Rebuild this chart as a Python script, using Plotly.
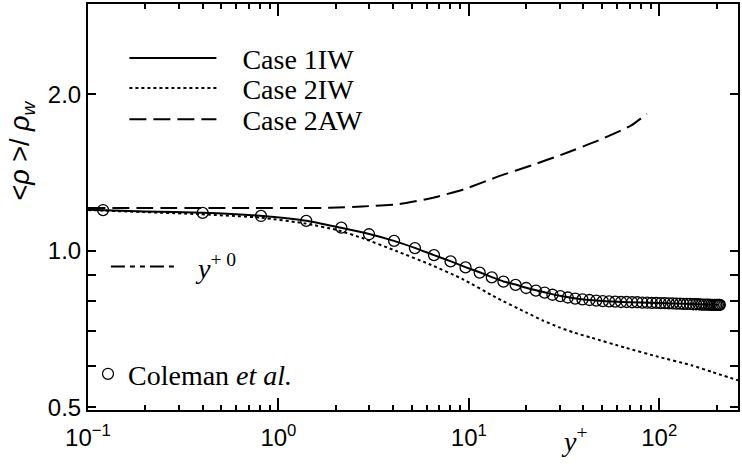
import plotly.graph_objects as go

# ---- data ----
case1_yp = [0.1, 0.2, 0.4, 0.8, 1.4, 2.1, 3.0, 4.0, 5.2, 6.5, 8.0, 9.6, 11.4, 13.2, 15.2, 17.6, 20, 25, 30, 40, 60, 80, 120, 160, 205]
case1_rho = [1.199, 1.190, 1.184, 1.168, 1.143, 1.109, 1.077, 1.046, 1.013, 0.982, 0.955, 0.930, 0.909, 0.890, 0.873,
             0.861, 0.849, 0.832, 0.819, 0.806, 0.798, 0.795, 0.792, 0.789, 0.787]

case2iw_yp = [0.1, 0.386, 0.812, 1.40, 2.04, 2.76, 4.13, 6.18, 9.23, 13.8, 20.1, 24.5, 29.6, 36.0, 44.2, 66.1, 98.8,
              147.6, 187.8, 259]
case2iw_rho = [1.198, 1.176, 1.158, 1.128, 1.096, 1.058, 1.000, 0.943, 0.883, 0.814, 0.760, 0.734, 0.713, 0.695,
               0.680, 0.651, 0.625, 0.602, 0.585, 0.563]

case2aw_yp = [0.1, 0.705, 1.85, 2.75, 4.30, 6.40, 9.53, 14.4, 21.4, 32.2, 48.0, 71.3, 86.0]
case2aw_rho = [1.209, 1.209, 1.210, 1.217, 1.230, 1.264, 1.315, 1.392, 1.461, 1.541, 1.632, 1.743, 1.835]

coleman_yp = [0.12, 0.40, 0.81, 1.40, 2.14, 2.99, 4.05, 5.21, 6.56, 8.02, 9.61, 11.4, 13.2, 15.2, 17.6, 20.0, 22.5,
              25.0, 27.5, 30.2, 33.1, 36.2, 39.5, 43.0, 46.7, 50.5, 54.5, 58.7, 63.0, 67.4, 72.0, 76.7, 81.5, 86.4,
              91.4, 96.5, 101.7, 107.0, 112.3, 117.7, 123.1, 128.6, 134.1, 139.6, 145.1, 150.6, 156.1, 161.5,
              166.8, 172.0, 177.1, 182.0, 186.8, 191.3, 195.6, 199.5, 203.0, 206.0, 208.0]
coleman_rho = [1.198, 1.183, 1.167, 1.142, 1.108, 1.076, 1.045, 1.012, 0.981, 0.954, 0.929, 0.908, 0.889, 0.872,
               0.860, 0.848, 0.838, 0.831, 0.823, 0.818, 0.813, 0.809, 0.806, 0.804, 0.802, 0.800, 0.799, 0.798,
               0.797, 0.797, 0.796, 0.796, 0.795, 0.795, 0.794, 0.794, 0.793, 0.793, 0.792, 0.792, 0.791, 0.791,
               0.790, 0.790, 0.790, 0.789, 0.789, 0.789, 0.788, 0.788, 0.788, 0.788, 0.787, 0.787, 0.787, 0.787,
               0.787, 0.787, 0.787]

x_tickvals = [0.1, 1, 10, 100]
x_ticktext = ["10<sup>\u22121</sup>", "10<sup>0</sup>", "10<sup>1</sup>", "10<sup>2</sup>"]
y_tickvals = [0.5, 1.0, 2.0]
y_ticktext = ["0.5", "1.0", "2.0"]
y_minor = [0.6, 0.7, 0.8, 0.9]
x_minor = [0.2, 0.3, 0.4, 0.5, 0.6, 0.7, 0.8, 0.9, 2, 3, 4, 5, 6, 7, 8, 9, 20, 30, 40, 50, 60, 70, 80, 90, 200]

SERIF = "Liberation Serif, Times New Roman, serif"
SANS = "Liberation Sans, Arial, sans-serif"
SP = "\u00a0"

fig = go.Figure()
fig.add_trace(go.Scatter(x=case1_yp, y=case1_rho, mode="lines", name=SP * 3 + "Case 1IW",
                         line=dict(color="black", width=2, shape="spline", smoothing=0.5), legend="legend"))
fig.add_trace(go.Scatter(x=case2iw_yp, y=case2iw_rho, mode="lines", name=SP * 3 + "Case 2IW",
                         line=dict(color="black", width=2, dash="3px,3px", shape="spline", smoothing=0.5),
                         legend="legend4"))
fig.add_trace(go.Scatter(x=case2aw_yp, y=case2aw_rho, mode="lines", name=SP * 3 + "Case 2AW",
                         line=dict(color="black", width=2, dash="17px,7px", shape="spline", smoothing=0.5),
                         legend="legend5"))
fig.add_trace(go.Scatter(x=[None], y=[None], mode="lines", name=SP * 2 + "<i>y</i><sup>+ 0</sup>",
                         line=dict(color="black", width=2, dash="14px,5px,5px,5px,5px,5px"), legend="legend2"))
fig.add_trace(go.Scatter(x=coleman_yp, y=coleman_rho, mode="markers", name="Coleman <i>et al.</i>",
                         marker=dict(symbol="circle-open", size=11, color="black", line=dict(width=1.3)),
                         legend="legend3"))

leg_common = dict(xanchor="left", yanchor="top", bgcolor="rgba(0,0,0,0)",
                  font=dict(family=SERIF, size=28, color="black"))
fig.update_layout(
    width=742, height=467,
    margin=dict(l=88, r=2, t=2, b=57),
    paper_bgcolor="white", plot_bgcolor="white",
    showlegend=True,
    legend=dict(x=0.056, y=0.928, itemwidth=87, **leg_common),
    legend4=dict(x=0.056, y=0.854, itemwidth=87, **leg_common),
    legend5=dict(x=0.056, y=0.777, itemwidth=87, **leg_common),
    legend2=dict(x=0.0276, y=0.414, itemwidth=68, **leg_common),
    legend3=dict(x=0.0, y=0.15, itemwidth=30, **leg_common),
)

fig.update_xaxes(type="log", range=[-1, 2.4136], showgrid=False, zeroline=False,
                 showline=True, linecolor="black", linewidth=2, mirror="ticks",
                 ticks="inside", ticklen=12, tickwidth=1.5, tickcolor="black",
                 tickvals=x_tickvals, ticktext=x_ticktext, ticklabelstandoff=5,
                 tickfont=dict(family=SANS, size=24, color="black"),
                 minor=dict(tickvals=x_minor, ticks="inside", ticklen=5, tickwidth=1.5, tickcolor="black"))
fig.update_yaxes(type="log", range=[-0.3065, 0.4751], showgrid=False, zeroline=False,
                 showline=True, linecolor="black", linewidth=2, mirror="ticks",
                 ticks="inside", ticklen=8, tickwidth=1.5, tickcolor="black",
                 tickvals=y_tickvals, ticktext=y_ticktext,
                 tickfont=dict(family=SANS, size=24, color="black"),
                 minor=dict(tickvals=y_minor, ticks="inside", ticklen=8, tickwidth=1.5, tickcolor="black"))

fig.add_annotation(text="&lt;<i>\u03c1</i> &gt;/ <i>\u03c1</i><sub><i>w</i></sub>", xref="paper", yref="paper",
                   x=-0.101, y=0.64, xanchor="center", yanchor="middle", textangle=-90, showarrow=False,
                   font=dict(family=SANS, size=27, color="black"))
fig.add_annotation(text="<i>y</i><sup>+</sup>", xref="x", yref="paper", x=1.556, y=-0.0735,
                   xanchor="center", yanchor="middle", showarrow=False,
                   font=dict(family=SERIF, size=28, color="black"))

fig.write_html("out.html")
